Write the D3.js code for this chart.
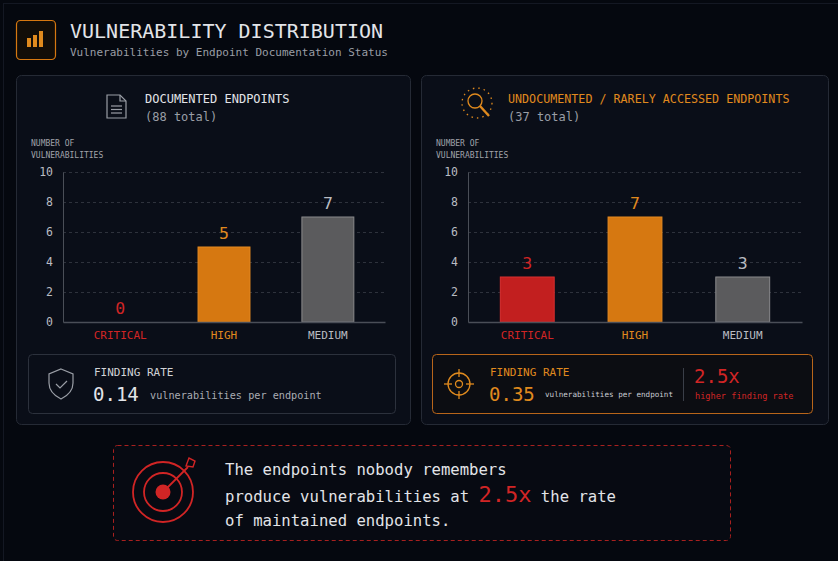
<!DOCTYPE html>
<html>
<head>
<meta charset="utf-8">
<script src="https://cdn.jsdelivr.net/npm/d3@7"></script>
<style>
  html, body { margin: 0; padding: 0; background: #05080f; }
  svg { display: block; font-family: 'DejaVu Sans Mono', 'Liberation Mono', monospace; }
</style>
</head>
<body>
<svg id="chart" width="838" height="561"></svg>
<script>
// data
const categories = ['CRITICAL', 'HIGH', 'MEDIUM'];
const documentedCounts = [0, 5, 7];
const undocumentedCounts = [3, 7, 3];
const yTicks = [0, 2, 4, 6, 8, 10];
const documentedTotal = 88;
const undocumentedTotal = 37;
const documentedRate = 0.14;
const undocumentedRate = 0.35;
const rateMultiple = '2.5x';

const RED = '#d12525';
const ORANGE = '#e08a1e';
const GREY_TXT = '#b9bcc2';
const barFill = { CRITICAL: '#c21f1f', HIGH: '#d67811', MEDIUM: '#5b5b5d' };
const barStroke = { CRITICAL: '#d83030', HIGH: '#e68a20', MEDIUM: '#8a8a8c' };
const labelColor = { CRITICAL: RED, HIGH: ORANGE, MEDIUM: GREY_TXT };

const svg = d3.select('#chart');

// page frame
svg.append('rect').attr('x', 0).attr('y', 0).attr('width', 838).attr('height', 561).attr('fill', '#05080f');
svg.append('rect').attr('x', 3.5).attr('y', 3.5).attr('width', 840).attr('height', 600)
  .attr('fill', 'none').attr('stroke', '#141823');

// header
const head = svg.append('g');
head.append('rect').attr('x', 16.5).attr('y', 20.5).attr('width', 39).attr('height', 39).attr('rx', 4)
  .attr('fill', '#120d08').attr('stroke', '#d67811').attr('stroke-width', 1.2);
// little bar glyph: [x, top]
[[27, 38], [33, 35], [39, 31]].forEach(b => {
  head.append('rect').attr('x', b[0]).attr('y', b[1]).attr('width', 4).attr('height', 47 - b[1])
    .attr('fill', '#e08a1e');
});
head.append('text').attr('x', 70).attr('y', 38).attr('font-size', 20).attr('fill', '#e2e4e8')
  .text('VULNERABILITY DISTRIBUTION');
head.append('text').attr('x', 70).attr('y', 56).attr('font-size', 11).attr('fill', '#9a9ea6')
  .text('Vulnerabilities by Endpoint Documentation Status');

function panel(opts) {
  const g = svg.append('g');
  g.append('rect').attr('x', opts.x + 0.5).attr('y', 75.5).attr('width', opts.w).attr('height', 349).attr('rx', 5)
    .attr('fill', '#0a0e18').attr('stroke', '#252a35');

  // header icon + titles
  opts.icon(g);
  g.append('text').attr('x', opts.titleX).attr('y', 103).attr('font-size', opts.titleSize).attr('fill', opts.titleColor)
    .text(opts.title);
  g.append('text').attr('x', opts.titleX).attr('y', 121).attr('font-size', 12).attr('fill', '#9a9ea6')
    .text('(' + opts.total + ' total)');

  // axis title
  g.append('text').attr('x', opts.x + 15).attr('y', 146).attr('font-size', 8).attr('fill', '#a0a3aa').text('NUMBER OF');
  g.append('text').attr('x', opts.x + 15).attr('y', 158).attr('font-size', 8).attr('fill', '#a0a3aa').text('VULNERABILITIES');

  const x = d3.scaleBand().domain(categories).range([opts.axisX, opts.axisEnd]).paddingInner(0.5).paddingOuter(0.3);
  const y = d3.scaleLinear().domain([0, 10]).range([322, 172]);

  const grid = g.append('g');
  grid.selectAll('line').data(yTicks.filter(t => t > 0)).join('line')
    .attr('x1', opts.axisX).attr('x2', opts.axisEnd)
    .attr('y1', d => y(d) + 0.5).attr('y2', d => y(d) + 0.5)
    .attr('stroke', '#2e323c').attr('stroke-dasharray', '3,3');

  const yAxis = g.append('g').attr('transform', `translate(${opts.axisX},0)`)
    .call(d3.axisLeft(y).tickValues(yTicks).tickSize(0).tickPadding(10));
  yAxis.select('.domain').attr('stroke', '#4a4e57');
  yAxis.selectAll('text').attr('fill', '#b9bcc2').attr('font-size', 11.5).attr('font-family', 'DejaVu Sans Mono');

  const data = categories.map((c, i) => ({ cat: c, v: opts.values[i] }));
  g.append('g').selectAll('rect').data(data).join('rect')
    .attr('x', d => x(d.cat)).attr('width', x.bandwidth())
    .attr('y', d => y(d.v)).attr('height', d => y(0) - y(d.v))
    .attr('fill', d => barFill[d.cat]).attr('stroke', d => d.v > 0 ? barStroke[d.cat] : 'none').attr('stroke-width', 1);

  g.append('g').selectAll('text').data(data).join('text')
    .attr('x', d => x(d.cat) + x.bandwidth() / 2).attr('y', d => y(d.v) - 8)
    .attr('text-anchor', 'middle').attr('font-size', 16.5).attr('fill', d => labelColor[d.cat])
    .text(d => d.v);

  const xAxis = g.append('g').attr('transform', 'translate(0,322)')
    .call(d3.axisBottom(x).tickSize(0).tickPadding(9));
  xAxis.select('.domain').attr('stroke', '#4a4e57').attr('stroke-width', 1.5);
  xAxis.selectAll('text').attr('font-size', 11).attr('font-family', 'DejaVu Sans Mono')
    .attr('fill', d => labelColor[d]);

  return g;
}

// documented panel
panel({
  x: 16, w: 394, titleX: 145, title: 'DOCUMENTED ENDPOINTS', titleColor: '#e2e4e8', titleSize: 12,
  total: documentedTotal, values: documentedCounts, axisX: 63, axisEnd: 385,
  icon: g => {
    const ic = g.append('g').attr('fill', 'none').attr('stroke', '#9a9ea6').attr('stroke-width', 1.2);
    ic.append('path').attr('d', 'M107,95 h13 l6,6 v17 h-19 z');
    ic.append('path').attr('d', 'M120,95 v6 h6');
    [106, 109.5, 113].forEach(yy => ic.append('line').attr('x1', 111).attr('x2', 122).attr('y1', yy).attr('y2', yy));
  }
});

// undocumented panel
panel({
  x: 421, w: 407, titleX: 508, title: 'UNDOCUMENTED / RARELY ACCESSED ENDPOINTS', titleColor: ORANGE, titleSize: 11.7,
  total: undocumentedTotal, values: undocumentedCounts, axisX: 468, axisEnd: 802,
  icon: g => {
    const ic = g.append('g').attr('fill', 'none').attr('stroke', ORANGE).attr('stroke-width', 1.3);
    ic.append('circle').attr('cx', 477).attr('cy', 103).attr('r', 15).attr('stroke-dasharray', '1.5,4');
    ic.append('circle').attr('cx', 475).attr('cy', 101).attr('r', 7);
    ic.append('line').attr('x1', 480).attr('y1', 106).attr('x2', 489).attr('y2', 116).attr('stroke-width', 2.4);
  }
});

// finding rate, documented
const fl = svg.append('g');
fl.append('rect').attr('x', 28.5).attr('y', 354.5).attr('width', 367).attr('height', 59).attr('rx', 4)
  .attr('fill', '#0a0e18').attr('stroke', '#2c313c');
fl.append('path').attr('d', 'M61,369 l12,5 v9 c0,8 -6,13 -12,16 c-6,-3 -12,-8 -12,-16 v-9 z')
  .attr('fill', 'none').attr('stroke', '#9a9ea6').attr('stroke-width', 1.2);
fl.append('path').attr('d', 'M56,384 l4,4 l7,-7').attr('fill', 'none').attr('stroke', '#9a9ea6').attr('stroke-width', 1.2);
fl.append('text').attr('x', 94).attr('y', 376).attr('font-size', 11).attr('fill', '#d0d2d6').text('FINDING RATE');
fl.append('text').attr('x', 93).attr('y', 401).attr('font-size', 19).attr('fill', '#e2e4e8').text(documentedRate.toFixed(2));
fl.append('text').attr('x', 150).attr('y', 399).attr('font-size', 10.2).attr('fill', '#a9acb3').text('vulnerabilities per endpoint');

// finding rate, undocumented
const fr = svg.append('g');
fr.append('rect').attr('x', 432.5).attr('y', 354.5).attr('width', 380).attr('height', 59).attr('rx', 4)
  .attr('fill', '#0c0d12').attr('stroke', '#b8651a');
const ch = fr.append('g').attr('fill', 'none').attr('stroke', ORANGE).attr('stroke-width', 1.3);
ch.append('circle').attr('cx', 459).attr('cy', 384).attr('r', 11);
ch.append('circle').attr('cx', 459).attr('cy', 384).attr('r', 3.5);
[[459, 369, 459, 377], [459, 391, 459, 399], [444, 384, 452, 384], [466, 384, 474, 384]].forEach(l =>
  ch.append('line').attr('x1', l[0]).attr('y1', l[1]).attr('x2', l[2]).attr('y2', l[3]));
fr.append('text').attr('x', 490).attr('y', 376).attr('font-size', 11).attr('fill', ORANGE).text('FINDING RATE');
fr.append('text').attr('x', 489).attr('y', 401).attr('font-size', 19).attr('fill', ORANGE).text(undocumentedRate.toFixed(2));
fr.append('text').attr('x', 545).attr('y', 397).attr('font-size', 7.6).attr('fill', '#c9ccd2').text('vulnerabilities per endpoint');
fr.append('line').attr('x1', 683.5).attr('x2', 683.5).attr('y1', 368).attr('y2', 401).attr('stroke', '#3a3e48');
fr.append('text').attr('x', 694).attr('y', 383).attr('font-size', 19).attr('fill', RED).text(rateMultiple);
fr.append('text').attr('x', 695).attr('y', 399).attr('font-size', 8.6).attr('fill', RED).text('higher finding rate');

// callout
const co = svg.append('g');
co.append('rect').attr('x', 113.5).attr('y', 445.5).attr('width', 617).attr('height', 95).attr('rx', 4)
  .attr('fill', '#070a12').attr('stroke', '#a8201f').attr('stroke-dasharray', '4,3');
const tg = co.append('g').attr('fill', 'none').attr('stroke', RED).attr('stroke-width', 1.8);
tg.append('circle').attr('cx', 163).attr('cy', 492).attr('r', 30);
tg.append('circle').attr('cx', 163).attr('cy', 492).attr('r', 19);
co.append('circle').attr('cx', 163).attr('cy', 492).attr('r', 7.5).attr('fill', RED);
tg.append('line').attr('x1', 166).attr('y1', 489).attr('x2', 188).attr('y2', 467);
tg.append('path').attr('d', 'M186,466 l3,-8 l6,3 l-2,6 z').attr('stroke-width', 1.4);
const lines = co.append('g').attr('font-size', 15.6).attr('fill', '#e2e4e8');
lines.append('text').attr('x', 225).attr('y', 475).text('The endpoints nobody remembers');
const l2 = lines.append('text').attr('x', 225).attr('y', 502);
l2.append('tspan').text('produce vulnerabilities at ');
l2.append('tspan').attr('font-size', 22).attr('fill', RED).text(rateMultiple);
l2.append('tspan').text(' the rate');
lines.append('text').attr('x', 225).attr('y', 526).text('of maintained endpoints.');
</script>
</body>
</html>
